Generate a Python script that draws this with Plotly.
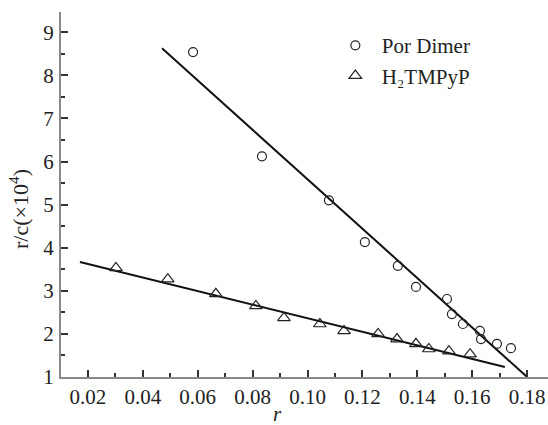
import plotly.graph_objects as go

# Por Dimer data
dimer_r = [0.0583, 0.0834, 0.1078, 0.1209, 0.1329, 0.1395, 0.1508, 0.1526, 0.1566, 0.1628, 0.1632, 0.1690, 0.1741]
dimer_rc = [8.54, 6.12, 5.10, 4.13, 3.58, 3.09, 2.81, 2.46, 2.23, 2.07, 1.88, 1.77, 1.67]

# H2TMPyP data
tmpyp_r = [0.0302, 0.0491, 0.0666, 0.0812, 0.0914, 0.1045, 0.1133, 0.1257, 0.1326, 0.1395, 0.1442, 0.1515, 0.1592]
tmpyp_rc = [3.53, 3.27, 2.93, 2.65, 2.37, 2.23, 2.07, 2.00, 1.88, 1.77, 1.65, 1.60, 1.53]

# Fitted lines (endpoints)
dimer_fit_r = [0.047, 0.180]
dimer_fit_rc = [8.63, 1.0]
tmpyp_fit_r = [0.0171, 0.1719]
tmpyp_fit_rc = [3.67, 1.23]

x_ticks = [0.02, 0.04, 0.06, 0.08, 0.10, 0.12, 0.14, 0.16, 0.18]
x_tick_labels = ["0.02", "0.04", "0.06", "0.08", "0.10", "0.12", "0.14", "0.16", "0.18"]
y_ticks = [1, 2, 3, 4, 5, 6, 7, 8, 9]

FONT = "Liberation Serif, Times New Roman, serif"

fig = go.Figure()
fig.add_trace(go.Scatter(x=dimer_fit_r, y=dimer_fit_rc, mode="lines",
                         line=dict(color="#111111", width=2), showlegend=False))
fig.add_trace(go.Scatter(x=tmpyp_fit_r, y=tmpyp_fit_rc, mode="lines",
                         line=dict(color="#111111", width=2), showlegend=False))
fig.add_trace(go.Scatter(x=dimer_r, y=dimer_rc, mode="markers", name="Por Dimer",
                         marker=dict(symbol="circle-open", size=9, color="#222222",
                                     line=dict(width=1.2, color="#222222"))))
fig.add_trace(go.Scatter(x=tmpyp_r, y=tmpyp_rc, mode="markers", name="H₂TMPyP",
                         marker=dict(symbol="triangle-up-open", size=11, color="#222222",
                                     line=dict(width=1.2, color="#222222"))))

fig.update_layout(
    width=548, height=425,
    margin=dict(l=61, r=0, t=12, b=48),
    paper_bgcolor="white", plot_bgcolor="white",
    font=dict(family=FONT, size=20, color="#222222"),
    legend=dict(x=0.55, y=0.964, xanchor="left", yanchor="top",
                bgcolor="rgba(0,0,0,0)", font=dict(family=FONT, size=21),
                tracegroupgap=0, itemwidth=43),
    xaxis=dict(range=[0.0102, 0.1876], tickvals=x_ticks, ticktext=x_tick_labels,
               ticks="inside", ticklen=7, tickwidth=1.5, tickcolor="#333333",
               showline=True, linecolor="#888888", linewidth=2, showgrid=False,
               zeroline=False, tickfont=dict(family=FONT, size=21),
               ticklabelstandoff=0,
               minor=dict(ticks="inside", ticklen=4, tickwidth=1.5, tickcolor="#333333", dtick=0.01, tick0=0.01)),
    yaxis=dict(range=[1, 9.47], tickvals=y_ticks,
               ticks="inside", ticklen=7, tickwidth=1.5, tickcolor="#333333",
               showline=True, linecolor="#888888", linewidth=2, showgrid=False,
               zeroline=False, tickfont=dict(family=FONT, size=21),
               ticklabelstandoff=1,
               minor=dict(ticks="inside", ticklen=4, tickwidth=1.5, tickcolor="#333333", dtick=0.5, tick0=0.5)),
)

fig.add_annotation(text="r/c(×10<sup>4</sup>)", xref="paper", yref="paper",
                   x=(19 - 61) / 487, y=(377 - 209) / 365, textangle=-90, showarrow=False,
                   font=dict(family=FONT, size=22, color="#222222"), xanchor="center", yanchor="middle")
fig.add_annotation(text="<i>r</i>", xref="paper", yref="paper",
                   x=(277 - 61) / 487, y=-37/365, showarrow=False,
                   font=dict(family=FONT, size=21, color="#222222"), xanchor="center", yanchor="middle")

fig.write_html("out.html")
